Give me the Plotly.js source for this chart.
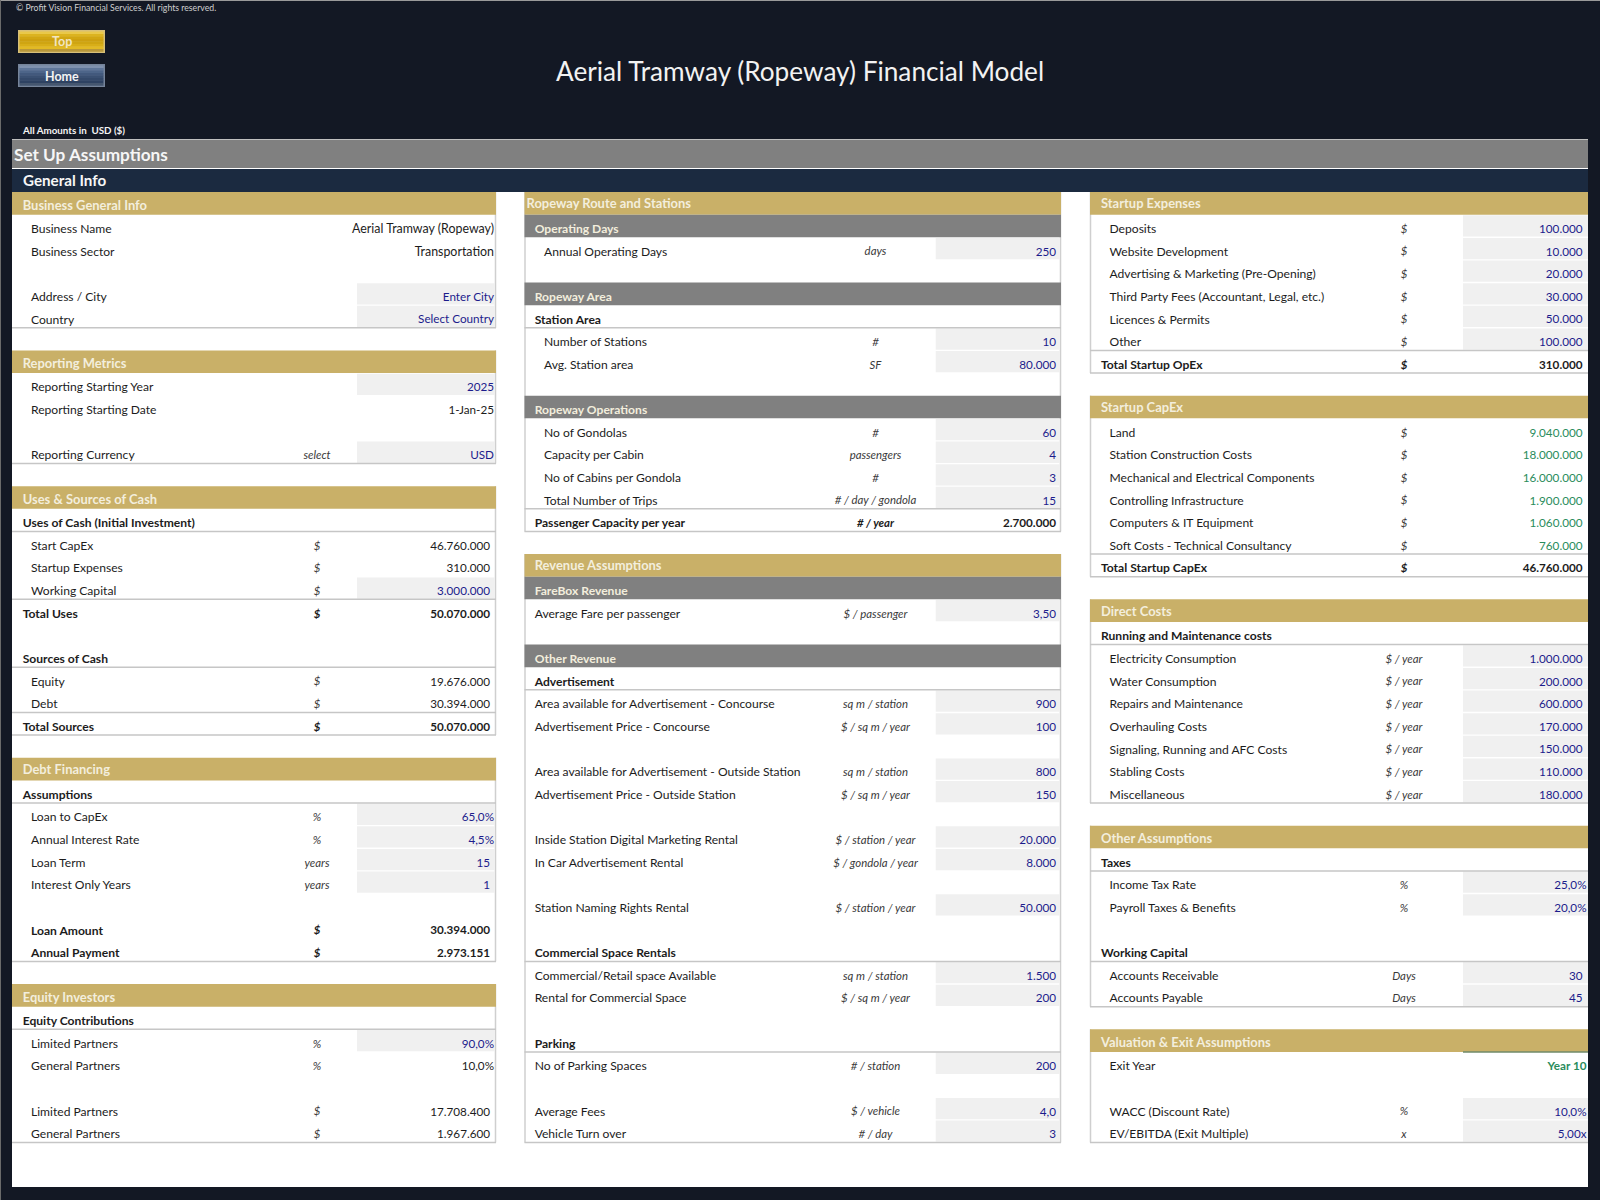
<!DOCTYPE html>
<html><head><meta charset="utf-8">
<script src="https://cdn.plot.ly/plotly-3.0.1.min.js"></script>
<style>html,body{margin:0;padding:0;background:#131824}</style></head>
<body><div id="chart" style="width:1600px;height:1200px"></div>
<script>
const chartTitle = "Aerial Tramway (Ropeway) Financial Model";
const copyrightText = "© Profit Vision Financial Services. All rights reserved.";
const amountsText = "All Amounts in  USD ($)";
const sheetTitle = "Set Up Assumptions";
const sheetSection = "General Info";
const buttonLabels = ["Top", "Home"];

const leftLabels = ["Business General Info","Business Name","Business Sector","","Address / City","Country","",
 "Reporting Metrics","Reporting Starting Year","Reporting Starting Date","","Reporting Currency","",
 "Uses & Sources of Cash","Uses of Cash (Initial Investment)","Start CapEx","Startup Expenses","Working Capital","Total Uses","",
 "Sources of Cash","Equity","Debt","Total Sources","",
 "Debt Financing","Assumptions","Loan to CapEx","Annual Interest Rate","Loan Term","Interest Only Years","","Loan Amount","Annual Payment","",
 "Equity Investors","Equity Contributions","Limited Partners","General Partners","","Limited Partners","General Partners"];
const leftUnits = ["","","","","","","",
 "","","","","select","",
 "","","$","$","$","$","",
 "","$","$","$","",
 "","","%","%","years","years","","$","$","",
 "","","%","%","","$","$"];
const leftValues = ["","Aerial Tramway (Ropeway)","Transportation","","Enter City","Select Country","",
 "","2025","1-Jan-25","","USD","",
 "","","46.760.000","310.000","3.000.000","50.070.000","",
 "","19.676.000","30.394.000","50.070.000","",
 "","","65,0%","4,5%","15","1","","30.394.000","2.973.151","",
 "","","90,0%","10,0%","","17.708.400","1.967.600"];

const midLabels = ["Ropeway Route and Stations","Operating Days","Annual Operating Days","","Ropeway Area","Station Area","Number of Stations","Avg. Station area","",
 "Ropeway Operations","No of Gondolas","Capacity per Cabin","No of Cabins per Gondola","Total Number of Trips","Passenger Capacity per year","",
 "Revenue Assumptions","FareBox Revenue","Average Fare per passenger","","Other Revenue","Advertisement",
 "Area available for Advertisement - Concourse","Advertisement Price - Concourse","",
 "Area available for Advertisement - Outside Station","Advertisement Price - Outside Station","",
 "Inside Station Digital Marketing Rental","In Car Advertisement Rental","","Station Naming Rights Rental","",
 "Commercial Space Rentals","Commercial/Retail space Available","Rental for Commercial Space","",
 "Parking","No of Parking Spaces","","Average Fees","Vehicle Turn over"];
const midUnits = ["","","days","","","","#","SF","",
 "","#","passengers","#","# / day / gondola","# / year","",
 "","","$ / passenger","","","",
 "sq m / station","$ / sq m / year","",
 "sq m / station","$ / sq m / year","",
 "$ / station / year","$ / gondola / year","","$ / station / year","",
 "","sq m / station","$ / sq m / year","",
 "","# / station","","$ / vehicle","# / day"];
const midValues = ["","","250","","","","10","80.000","",
 "","60","4","3","15","2.700.000","",
 "","","3,50","","","",
 "900","100","",
 "800","150","",
 "20.000","8.000","","50.000","",
 "","1.500","200","",
 "","200","","4,0","3"];

const rightLabels = ["Startup Expenses","Deposits","Website Development","Advertising & Marketing (Pre-Opening)","Third Party Fees (Accountant, Legal, etc.)","Licences & Permits","Other","Total Startup OpEx","",
 "Startup CapEx","Land","Station Construction Costs","Mechanical and Electrical Components","Controlling Infrastructure","Computers & IT Equipment","Soft Costs - Technical Consultancy","Total Startup CapEx","",
 "Direct Costs","Running and Maintenance costs","Electricity Consumption","Water Consumption","Repairs and Maintenance","Overhauling Costs","Signaling, Running and AFC Costs","Stabling Costs","Miscellaneous","",
 "Other Assumptions","Taxes","Income Tax Rate","Payroll Taxes & Benefits","","Working Capital","Accounts Receivable","Accounts Payable","",
 "Valuation & Exit Assumptions","Exit Year","","WACC (Discount Rate)","EV/EBITDA (Exit Multiple)"];
const rightUnits = ["","$","$","$","$","$","$","$","",
 "","$","$","$","$","$","$","$","",
 "","","$ / year","$ / year","$ / year","$ / year","$ / year","$ / year","$ / year","",
 "","","%","%","","","Days","Days","",
 "","","","%","x"];
const rightValues = ["","100.000","10.000","20.000","30.000","50.000","100.000","310.000","",
 "","9.040.000","18.000.000","16.000.000","1.900.000","1.060.000","760.000","46.760.000","",
 "","","1.000.000","200.000","600.000","170.000","150.000","110.000","180.000","",
 "","","25,0%","20,0%","","","30","45","",
 "","Year 10","","10,0%","5,00x"];

// Row-by-row table structure (row numbers), separate from the values above.
const panels = [
 {labels:leftLabels, units:leftUnits, values:leftValues, x0:12, x1:496, inputX:357, unitX:317, indentX:31, flatX:22.7, edgeL:false, edgeR:true,
  gold:[0,7,13,25,35], goldMid:[25], goldX:{}, gray:[], lines:[5,11,14,17,20,22,23,26,33,36,41],
  inputs:[4,5,8,11,17,27,28,29,30,37], boldRows:[14,18,20,23,26,32,33,36], flat:[14,18,20,23,26,36],
  green:[], flush:[1,2,4,5,8,9,11,27,28,37,38], wide:[1,2], flushR:494, valR:490},
 {labels:midLabels, units:midUnits, values:midValues, x0:524.5, x1:1061, inputX:935.7, unitX:875.5, indentX:544, flatX:534.7, edgeL:true, edgeR:true,
  gold:[0,16], goldMid:[0,16], goldX:{0:526.5}, gray:[1,4,9,17,20], lines:[5,13,14,21,33,37,41],
  inputs:[2,6,7,10,11,12,13,18,22,23,25,26,28,29,31,34,35,38,40,41], boldRows:[5,14,21,33,37],
  flat:[1,4,5,9,14,17,18,20,21,22,23,25,26,28,29,31,33,34,35,37,38,40,41],
  green:[], flush:[], wide:[], flushR:1056, valR:1056},
 {labels:rightLabels, units:rightUnits, values:rightValues, x0:1090, x1:1588, inputX:1463, unitX:1404, indentX:1109.5, flatX:1101, edgeL:true, edgeR:false,
  gold:[0,9,18,28,37], goldMid:[0,9,18], goldX:{}, gray:[], lines:[6,7,15,16,19,26,29,33,35,41],
  inputs:[1,2,3,4,5,6,20,21,22,23,24,25,26,30,31,34,35,40,41], boldRows:[7,16,19,29,33], flat:[7,16,19,29,33],
  green:[10,11,12,13,14,15,38], flush:[30,31,38,40,41], wide:[], flushR:1586.5, valR:1582.5}
];

const TOP = 192, ROW = 22.63, BODY = 12.1, NUM = 11.7;
const py = p => (p - TOP) / ROW;
const shapes = [], annotations = [], traces = [];
const rect = (x0,x1,y0,y1,fill) => shapes.push({type:'rect',layer:'below',xref:'x',yref:'y',x0,x1,y0,y1,fillcolor:fill,line:{width:0}});
const hline = (x0,x1,y,c,w) => shapes.push({type:'line',layer:'below',xref:'x',yref:'y',x0,x1,y0:y,y1:y,line:{color:c,width:w}});
const vline = (x,y0,y1,c,w) => shapes.push({type:'line',layer:'below',xref:'x',yref:'y',x0:x,x1:x,y0,y1,line:{color:c,width:w}});
const note = (text,x,p,size,color,anchor) => annotations.push({text,x,y:py(p),xref:'x',yref:'y',showarrow:false,xanchor:anchor||'left',yanchor:'middle',font:{family:'Lato',size,color}});

// page chrome
rect(0,1600,py(0),py(1200),'#131824');
rect(12,1588,py(139),py(1187),'#ffffff');
rect(12,1588,py(139.5),py(168),'#808080');
rect(12,1588,py(169),py(192),'#1b2a40');
hline(0,1600,py(0.5),'#9a9a9a',1);
vline(0.5,py(0),py(1200),'#6a6a6a',1);

// buttons built from stacked strips
const btn = (y0,y1,stops,rim) => {
  rect(18,105,py(y0),py(y1),rim);
  const n = stops.length, h = (y1-y0-3)/n;
  stops.forEach((c,i)=>rect(19.5,103.5,py(y0+1.5+i*h),py(y0+1.5+(i+1)*h+0.3),c));
};
btn(30,53,['#e9c84a','#dcb31f','#d2a612','#cda010','#cfa512','#d8ae18','#e2ba24','#b8973a'],'#d8c078');
btn(64,87,['#7f91ae','#5f7699','#4d6589','#42597d','#3a5072','#34496a','#2e4262','#45566f'],'#76849a');
note('<b>'+buttonLabels[0]+'</b>',61.5,41.5,12.5,'#f2e6c2','center');
note('<b>'+buttonLabels[1]+'</b>',61.5,76,12.5,'#f4f4f4','center');

note(copyrightText,13.8,7.5,8.7,'#cfcfcf');
note('<b>'+amountsText+'</b>',19.8,129.5,9.8,'#f4f4f4');
note(chartTitle,800,70.5,26.2,'#f2f2f2','center');
note('<b>'+sheetTitle+'</b>',11.5,154.5,17.2,'#f6f6f6');
note('<b>'+sheetSection+'</b>',20.8,180,15.2,'#f6f6f6');

const INK='#1c1c1c', BLUE='#1c1c8c', GREEN='#2a8c5c', UNIT='#3a3a3a';
panels.forEach(P=>{
  const n = P.labels.length, lx=[],ly=[],lt=[],lc=[],ls=[], ux=[],uy=[],ut=[],uc=[], vx=[],vy=[],vt=[],vc=[],vs=[];
  // panel side borders run from each gold header to the last filled row of its section
  const starts = P.gold.concat([n]);
  for (let s=0;s<P.gold.length;s++){
    let e = starts[s+1]-1;
    while (e>starts[s] && !P.labels[e]) e--;
    const end = e+1;
    if (P.edgeL) vline(P.x0+0.5,starts[s],end,'#cfcfcf',1.5);
    if (P.edgeR) vline(P.x1-0.5,starts[s],end,'#cfcfcf',1.5);
  }
  P.inputs.forEach(k=>rect(P.inputX,P.x1-(P.edgeR?1:0),k+0.03,k+0.97,'#f0f0f0'));
  P.gold.forEach(k=>rect(P.x0,P.x1,k,k+1,'#c9b068'));
  P.gray.forEach(k=>rect(P.x0,P.x1,k,k+1,'#808080'));
  P.lines.forEach(k=>hline(P.x0,P.x1,k+1,'#c6c6c6',1.5));
  for (let k=0;k<n;k++){
    const isGold=P.gold.includes(k), isGray=P.gray.includes(k), bold=P.boldRows.includes(k);
    if (P.labels[k]){
      const head = isGold||isGray;
      lx.push(isGold ? (P.goldX[k]!==undefined?P.goldX[k]:P.flatX) : (isGray||P.flat.includes(k) ? P.flatX : P.indentX));
      ly.push(k + (P.goldMid.includes(k) ? 0.58 : (isGold ? 0.64 : 0.68)));
      lt.push(head||bold ? '<b>'+P.labels[k]+'</b>' : P.labels[k]);
      lc.push(head ? '#f3eedd' : INK);
      ls.push(isGold ? 12.95 : BODY);
    }
    if (P.units[k]){
      ux.push(P.unitX); uy.push(k+0.68);
      ut.push(bold ? '<b><i>'+P.units[k]+'</i></b>' : '<i>'+P.units[k]+'</i>');
      uc.push(bold ? INK : UNIT);
    }
    if (P.values[k]){
      const flush=P.flush.includes(k);
      vx.push(flush?P.flushR:P.valR); vy.push(k+0.68);
      const isG=P.green.includes(k), isIn=P.inputs.includes(k);
      const strong = bold || P.values[k]==='Year 10';
      vt.push(strong?'<b>'+P.values[k]+'</b>':P.values[k]);
      vc.push(isG?GREEN:(isIn?BLUE:INK));
      vs.push(P.wide.includes(k)?12.4:NUM);
    }
  }
  traces.push({type:'scatter',mode:'text',x:lx,y:ly,text:lt,textposition:'middle right',cliponaxis:false,hoverinfo:'skip',showlegend:false,textfont:{family:'Lato',size:ls,color:lc}});
  traces.push({type:'scatter',mode:'text',x:ux,y:uy,text:ut,textposition:'middle center',cliponaxis:false,hoverinfo:'skip',showlegend:false,textfont:{family:'Lato',size:11.4,color:uc}});
  traces.push({type:'scatter',mode:'text',x:vx,y:vy,text:vt,textposition:'middle left',cliponaxis:false,hoverinfo:'skip',showlegend:false,textfont:{family:'Lato',size:vs,color:vc}});
});
// small accent line under the valuation header
hline(1463,1588,38,'#6f8a6a',1.5);

const layout = {
  width:1600,height:1200,margin:{l:0,r:0,t:0,b:0},
  paper_bgcolor:'#131824',plot_bgcolor:'#131824',showlegend:false,
  xaxis:{range:[0,1600],visible:false,fixedrange:true},
  yaxis:{range:[py(1200),py(0)],visible:false,fixedrange:true},
  shapes,annotations
};
Plotly.newPlot('chart',traces,layout,{displayModeBar:false,staticPlot:true});
</script></body></html>
